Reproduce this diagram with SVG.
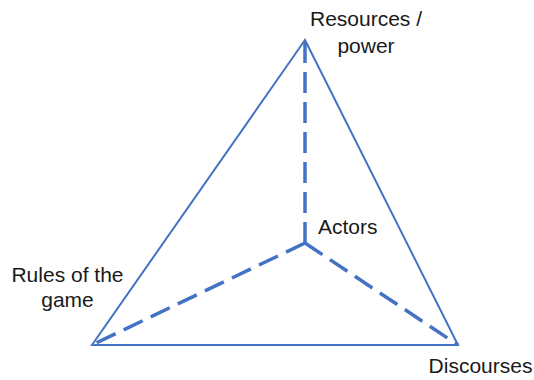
<svg xmlns="http://www.w3.org/2000/svg" width="534" height="380" viewBox="0 0 534 380">
<style>
.edge{fill:none;stroke:#4472C4;stroke-width:2;stroke-linejoin:miter}
.dash{fill:none;stroke:#4472C4;stroke-width:3.5;stroke-dasharray:21 9}
.lbl{font-family:"Liberation Sans",Arial,sans-serif;font-size:21px;fill:#1a1a1a}
</style>
<rect width="534" height="380" fill="#ffffff"/>
<g id="connectors">
<polygon class="edge" points="305,40 92,345 458,345"/>
<line class="dash" x1="305" y1="243" x2="305" y2="40"/>
<line class="dash" x1="305" y1="243" x2="92" y2="345"/>
<line class="dash" x1="305" y1="243" x2="458" y2="345"/>
</g>
<g id="resources">
<text class="lbl" x="366" y="26" text-anchor="middle">Resources /</text>
<text class="lbl" x="366" y="53" text-anchor="middle">power</text>
</g>
<g id="actors">
<text class="lbl" x="318" y="234">Actors</text>
</g>
<g id="rules">
<text class="lbl" x="67.5" y="282" text-anchor="middle">Rules of the</text>
<text class="lbl" x="67.5" y="307" text-anchor="middle">game</text>
</g>
<g id="discourses">
<text class="lbl" x="480.5" y="373" text-anchor="middle">Discourses</text>
</g>
</svg>
